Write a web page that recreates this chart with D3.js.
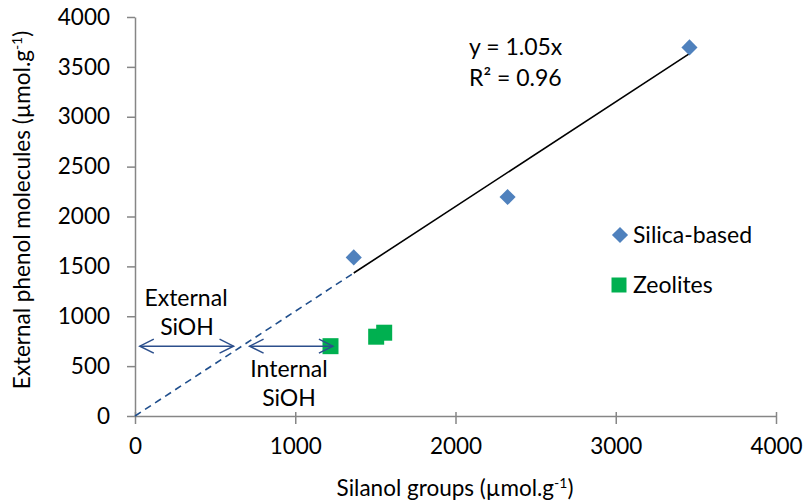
<!DOCTYPE html>
<html>
<head>
<meta charset="utf-8">
<script src="https://cdn.jsdelivr.net/npm/d3@7"></script>
<style>
  html, body { margin: 0; padding: 0; background: #fff; }
  svg { display: block; }
  text { font-family: Lato, "Open Sans", sans-serif; fill: #000; }
</style>
</head>
<body>
<svg id="chart" width="804" height="502"></svg>
<script>
// ---- data ----
const silicaX = [1365, 2325, 3460];
const silicaY = [1590, 2195, 3695];
const zeoliteX = [1220, 1505, 1555];
const zeoliteY = [700, 795, 835];
const trendSlope = 1.05;
const trendSolid = [1365, 3460];
const trendDashed = [0, 1365];
const arrowY = 700;
const externalArrow = [30, 615];
const internalArrow = [715, 1235];
const xTicks = [0, 1000, 2000, 3000, 4000];
const yTicks = [0, 500, 1000, 1500, 2000, 2500, 3000, 3500, 4000];
const seriesNames = ["Silica-based", "Zeolites"];
const equationLines = ["y = 1.05x", "R² = 0.96"];

// ---- layout ----
const svg = d3.select("#chart");
const x = d3.scaleLinear().domain([0, 4000]).range([135, 776]);
const y = d3.scaleLinear().domain([0, 4000]).range([416, 17]);
const axisColor = "#868686";
const blue = "#4F81BD";
const green = "#00B050";
const dark = "#2C4F8C";

// axes
const gx = svg.append("g").attr("transform", `translate(0,${y(0)})`)
  .call(d3.axisBottom(x).tickValues(xTicks).tickSize(8).tickSizeOuter(0).tickPadding(14).tickFormat(d3.format("d")));
gx.select(".domain").attr("stroke", axisColor).attr("stroke-width", 1.5);
gx.selectAll(".tick line").attr("stroke", axisColor).attr("stroke-width", 1.5).attr("y1", -4);
gx.selectAll(".tick text").attr("font-size", 22.5).attr("font-family", "Lato").attr("fill", "#000");

const gy = svg.append("g").attr("transform", `translate(${x(0)},0)`)
  .call(d3.axisLeft(y).tickValues(yTicks).tickSize(8).tickSizeOuter(0).tickPadding(17).tickFormat(d3.format("d")));
gy.select(".domain").attr("stroke", axisColor).attr("stroke-width", 1.5);
gy.selectAll(".tick line").attr("stroke", axisColor).attr("stroke-width", 1.5);
gy.selectAll(".tick text").attr("font-size", 22.5).attr("font-family", "Lato").attr("fill", "#000");

// axis titles
const xt = svg.append("text").attr("x", 455).attr("y", 496).attr("text-anchor", "middle").attr("font-size", 22.5);
xt.append("tspan").text("Silanol groups (µmol.g");
xt.append("tspan").attr("font-size", 14).attr("dy", -8).text("-1");
xt.append("tspan").attr("dy", 8).text(")");

const yt = svg.append("text").attr("transform", "translate(30,210) rotate(-90)").attr("text-anchor", "middle").attr("font-size", 22.5);
yt.append("tspan").text("External phenol molecules (µmol.g");
yt.append("tspan").attr("font-size", 14).attr("dy", -8).text("-1");
yt.append("tspan").attr("dy", 8).text(")");

// trend line
const trendLine = d3.line().x(d => x(d)).y(d => y(trendSlope * d));
svg.append("path").attr("d", trendLine(trendDashed)).attr("fill", "none")
  .attr("stroke", "#1F4E8C").attr("stroke-width", 1.6).attr("stroke-dasharray", "7,5");
svg.append("path").attr("d", trendLine(trendSolid)).attr("fill", "none")
  .attr("stroke", "#000").attr("stroke-width", 1.6);

// double arrows
function doubleArrow(range) {
  const x0 = x(range[0]), x1 = x(range[1]), yy = y(arrowY);
  const g = svg.append("g").attr("stroke", dark).attr("stroke-width", 1.5).attr("fill", "none");
  g.append("line").attr("x1", x0).attr("x2", x1).attr("y1", yy).attr("y2", yy);
  g.append("path").attr("d", `M${x0 + 14},${yy - 7}L${x0},${yy}L${x0 + 14},${yy + 7}`);
  g.append("path").attr("d", `M${x1 - 14},${yy - 7}L${x1},${yy}L${x1 - 14},${yy + 7}`);
}

// points
const zeo = zeoliteX.map((v, i) => ({ x: v, y: zeoliteY[i] }));
const sil = silicaX.map((v, i) => ({ x: v, y: silicaY[i] }));
svg.selectAll(".zeo").data(zeo).join("path").attr("class", "zeo")
  .attr("d", d3.symbol(d3.symbolSquare, 256)())
  .attr("transform", d => `translate(${x(d.x)},${y(d.y)})`).attr("fill", green);
svg.selectAll(".sil").data(sil).join("path").attr("class", "sil")
  .attr("d", d3.symbol(d3.symbolSquare, 130)())
  .attr("transform", d => `translate(${x(d.x)},${y(d.y)}) rotate(45)`).attr("fill", blue);

doubleArrow(externalArrow);
doubleArrow(internalArrow);

// annotations
const ann = [
  { t: "External", cx: 186, by: 306 },
  { t: "SiOH", cx: 187, by: 335 },
  { t: "Internal", cx: 289, by: 377 },
  { t: "SiOH", cx: 289, by: 406 }
];
svg.selectAll(".ann").data(ann).join("text").attr("class", "ann")
  .attr("x", d => d.cx).attr("y", d => d.by).attr("text-anchor", "middle").attr("font-size", 23).text(d => d.t);

// equation
svg.selectAll(".eq").data(equationLines).join("text").attr("class", "eq")
  .attr("x", 469).attr("y", (d, i) => 55 + i * 31).attr("font-size", 23).text(d => d);

// legend
const lg = svg.append("g");
lg.append("path").attr("d", d3.symbol(d3.symbolSquare, 130)()).attr("transform", "translate(620,235) rotate(45)").attr("fill", blue);
lg.append("path").attr("d", d3.symbol(d3.symbolSquare, 225)()).attr("transform", "translate(619,285)").attr("fill", green);
lg.append("text").attr("x", 633).attr("y", 243).attr("font-size", 23).text(seriesNames[0]);
lg.append("text").attr("x", 633).attr("y", 293).attr("font-size", 23).text(seriesNames[1]);
</script>
</body>
</html>
